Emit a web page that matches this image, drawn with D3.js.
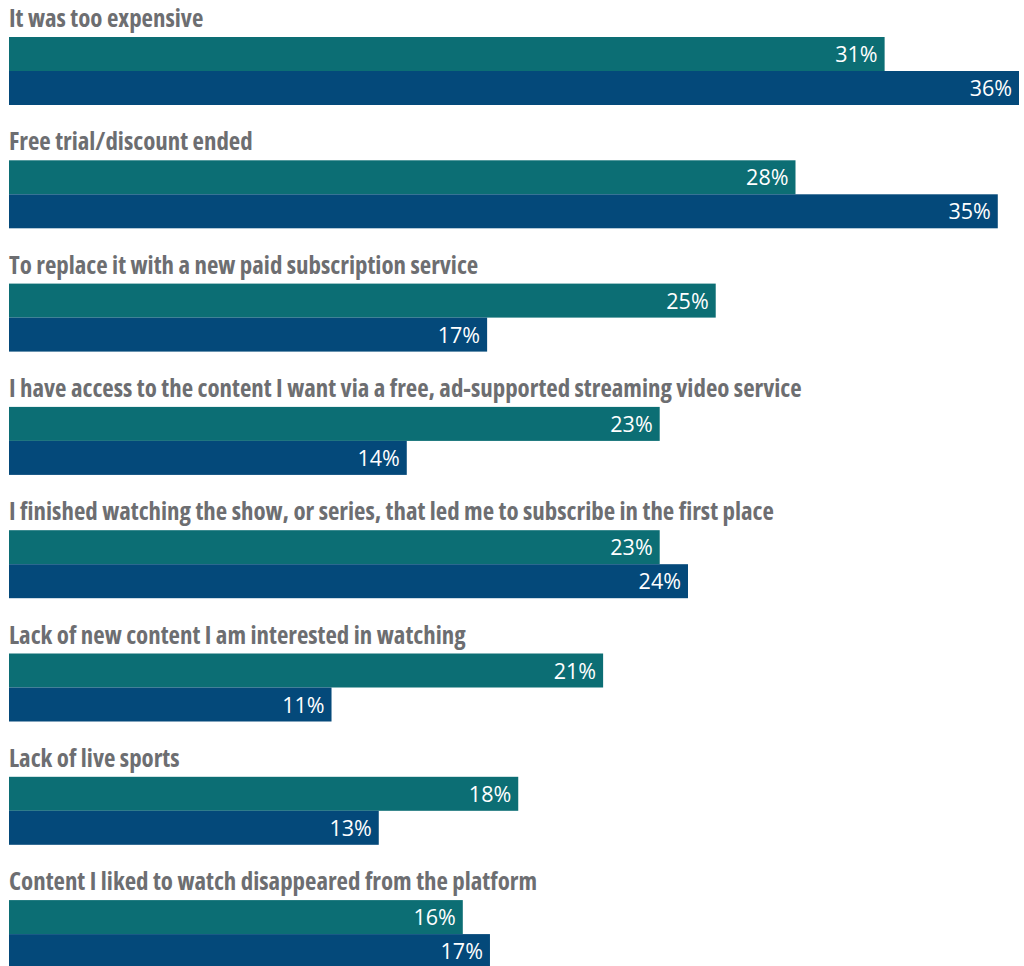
<!DOCTYPE html>
<html>
<head>
<meta charset="utf-8">
<script src="https://cdn.jsdelivr.net/npm/d3@7"></script>
<style>
  body { margin: 0; background: #fff; }
  .cat { font-family: "Open Sans", sans-serif; font-stretch: 75%; font-weight: 700; fill: #6d6e71; }
  .val { font-family: "Open Sans", sans-serif; font-weight: 500; fill: #fff; }
</style>
</head>
<body>
<div id="chart"></div>
<script>
// categories, top to bottom
var categories = [
    "It was too expensive",
    "Free trial/discount ended",
    "To replace it with a new paid subscription service",
    "I have access to the content I want via a free, ad-supported streaming video service",
    "I finished watching the show, or series, that led me to subscribe in the first place",
    "Lack of new content I am interested in watching",
    "Lack of live sports",
    "Content I liked to watch disappeared from the platform"
];
var seriesNames = ["series1", "series2"];
// (labels show rounded values)
var series1 = [30.95, 27.8, 24.98, 23.0, 23.0, 21.0, 18.0, 16.04];
var series2 = [35.7, 34.95, 16.9, 14.06, 24.0, 11.4, 13.07, 17.0];
var colors = ["#0c6e74", "#04497a"];

var width = 1024, height = 966;
var margin = { left: 9, right: 5 };
var rowH = 123.3;

var svg = d3.select("#chart")
    .append("svg")
    .attr("width", width)
    .attr("height", height);

var x = d3.scaleLinear()
    .domain([0, 35.7])
    .range([margin.left, width - margin.right]);

var y = d3.scaleBand()
    .domain(categories)
    .range([0, categories.length * rowH]);

var ySub = d3.scaleBand()
    .domain(seriesNames)
    .range([37, 105]);

var rows = categories.map(function(c, i) {
    return { cat: c, vals: [series1[i], series2[i]] };
});

var g = svg.selectAll("g.row")
    .data(rows)
    .enter()
    .append("g")
    .attr("class", "row")
    .attr("transform", function(d) { return "translate(0," + y(d.cat) + ")"; });

g.append("text")
    .attr("class", "cat")
    .attr("x", margin.left)
    .attr("y", 27)
    .style("font-size", "24.9px")
    .text(function(d) { return d.cat; });

var bars = g.selectAll("g.bar")
    .data(function(d) {
        return d.vals.map(function(v, j) { return { s: seriesNames[j], v: v, j: j }; });
    })
    .enter()
    .append("g")
    .attr("class", "bar");

bars.append("rect")
    .attr("x", x(0))
    .attr("y", function(d) { return ySub(d.s); })
    .attr("width", function(d) { return x(d.v) - x(0); })
    .attr("height", ySub.bandwidth())
    .attr("fill", function(d) { return colors[d.j]; });

bars.append("text")
    .attr("class", "val")
    .attr("x", function(d) { return x(d.v) - 7; })
    .attr("y", function(d) { return ySub(d.s) + ySub.bandwidth() / 2 + 8; })
    .attr("text-anchor", "end")
    .style("font-size", "21.5px")
    .text(function(d) { return Math.round(d.v) + "%"; });
</script>
</body>
</html>
